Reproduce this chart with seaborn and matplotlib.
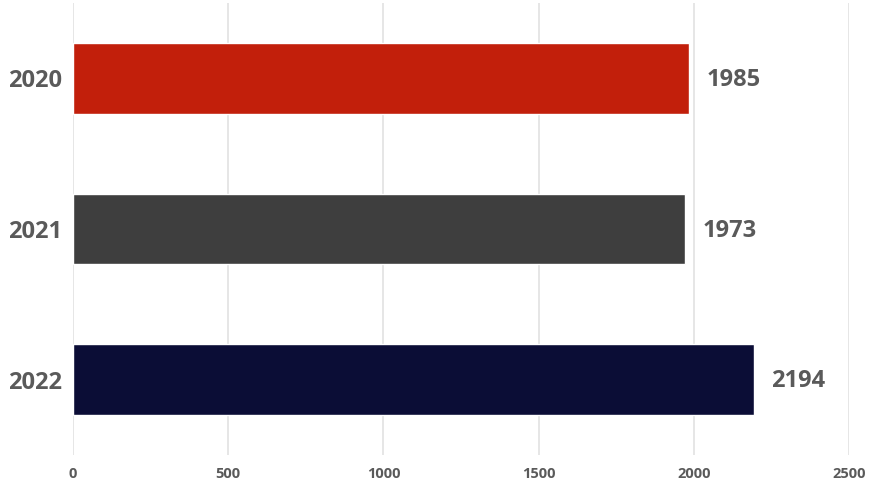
import matplotlib
matplotlib.use("Agg")
import matplotlib.pyplot as plt
import seaborn as sns
import pandas as pd

years = ["2020", "2021", "2022"]
values = [1985, 1973, 2194]
bar_colors = ["#C21F0B", "#3E3E3E", "#0B0D36"]
x_ticks = [0, 500, 1000, 1500, 2000, 2500]

sns.set_theme(style="white")
plt.rcParams["font.family"] = ["Open Sans", "DejaVu Sans"]

df = pd.DataFrame({"year": years, "value": values})

fig = plt.figure(figsize=(8.71, 4.91), dpi=100)
ax = fig.add_axes([73 / 871, 1 - 455 / 491, (849 - 73) / 871, 452 / 491])

sns.barplot(data=df, x="value", y="year", hue="year", palette=bar_colors,
            width=0.467, legend=False, ax=ax, saturation=1, zorder=3)

ax.set_xlim(0, 2500)
ax.set_ylim(2.5, -0.5)
ax.set_xticks(x_ticks)
ax.set_xticklabels([str(t) for t in x_ticks])
ax.grid(axis="x", color="#E2E2E2", linewidth=1.2, zorder=0)
ax.set_axisbelow(True)
for s in ax.spines.values():
    s.set_visible(False)
ax.set_xlabel("")
ax.set_ylabel("")

ax.tick_params(axis="x", length=0, pad=9, labelsize=10.5, labelcolor="#5A5A5A")
ax.tick_params(axis="y", length=0, pad=8, labelsize=17, labelcolor="#5A5A5A")
for lbl in ax.get_xticklabels() + ax.get_yticklabels():
    lbl.set_fontweight("bold")

for i, v in enumerate(values):
    ax.text(v + 55, i + 0.01, str(v), va="center", ha="left", fontsize=17,
            fontweight="bold", color="#5A5A5A")

fig.savefig("out.png", dpi=100)
